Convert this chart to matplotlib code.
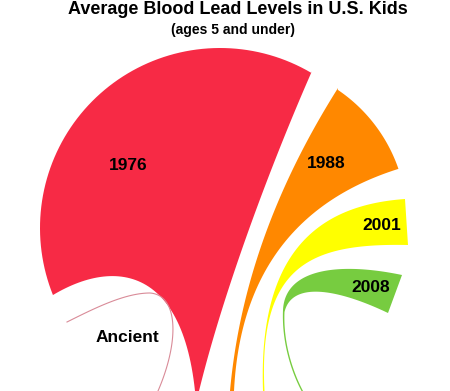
import numpy as np
import matplotlib.pyplot as plt

# petal labels and the (approximate) average blood lead level, ug/dL
years = ['Ancient', '1976', '1988', '2001', '2008']
levels = [0.016, 15.0, 3.6, 2.2, 1.5]
colors = ['#d98b98', '#f72a45', '#ff8800', '#ffff00', '#77cc40']

title = 'Average Blood Lead Levels in U.S. Kids'
subtitle = '(ages 5 and under)'

# layout (pixel space of the original graphic, y grows downwards)
label_pos = {'Ancient': (127, 337), '1976': (128, 166), '1988': (326, 163),
             '2001': (382, 225), '2008': (371, 287)}


def bezier(p0, p1, p2, p3, n=60):
    t = np.linspace(0, 1, n)[:, None]
    p0, p1, p2, p3 = map(np.asarray, (p0, p1, p2, p3))
    return ((1-t)**3*p0 + 3*(1-t)**2*t*p1 + 3*(1-t)*t**2*p2 + t**3*p3)


def arc(cx, cy, r, a0, a1, n=80):
    a = np.radians(np.linspace(a0, a1, n))
    return np.column_stack([cx + r*np.cos(a), cy - r*np.sin(a)])


# outline of each petal: outer edge, head, then back down the inner edge
shapes = {
    '1976': [bezier((195, 391), (182, 268), (115, 258), (53, 295)),
             arc(220, 228, 180, 201.9, 59.6),
             bezier((312, 71), (275, 155), (225, 285), (199, 391))],
    '1988': [bezier((230, 391), (240, 280), (280, 180), (338, 88)),
             arc(250, 220, 157, 56, 19),
             bezier((398, 169), (300, 200), (240, 270), (234, 391))],
    '2001': [bezier((263, 391), (258, 250), (320, 205), (405, 199)),
             np.array([[405, 199], [408, 245]]),
             bezier((408, 245), (310, 243), (258, 265), (264.5, 391))],
    '2008': [bezier((301.5, 391), (293, 375), (281.5, 345), (283, 310)),
             bezier((283, 310), (285, 268), (340, 262), (402, 275)),
             np.array([[402, 275], [388, 313]]),
             bezier((388, 313), (340, 290), (292, 280), (284.5, 312)),
             bezier((284.5, 312), (283, 345), (294.5, 375), (303, 391))],
}

# the ancient level is so small it is just a hairline
ancient = [bezier((67, 322), (95, 308), (125, 293), (150, 293)),
           bezier((150, 293), (178, 295), (180, 340), (158, 391))]

fig = plt.figure(figsize=(4.5, 3.91), dpi=100)
ax = fig.add_axes([0, 0, 1, 1])
ax.set_xlim(0, 450)
ax.set_ylim(391, 0)
ax.axis('off')

for name, col in zip(years, colors):
    if name == 'Ancient':
        line = np.vstack(ancient)
        ax.plot(line[:, 0], line[:, 1], color=col, lw=0.8)
    else:
        poly = np.vstack(shapes[name])
        ax.fill(poly[:, 0], poly[:, 1], color=col, lw=0)
    x, y = label_pos[name]
    ax.text(x, y, name, ha='center', va='center', fontsize=12.5,
            fontweight='bold', family='Liberation Sans')

ax.text(238, 13.5, title, ha='center', va='baseline', fontsize=13,
        fontweight='bold', family='Liberation Sans')
ax.text(233, 34, subtitle, ha='center', va='baseline', fontsize=10,
        fontweight='bold', family='Liberation Sans')

fig.savefig('out.png', dpi=100)
